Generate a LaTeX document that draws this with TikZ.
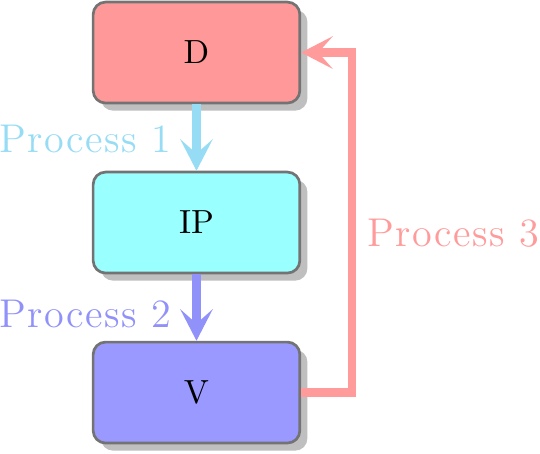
\documentclass[tikz,border=0pt]{standalone}
\usepackage{fontspec}
\usepackage{tikz}
\usetikzlibrary{arrows.meta, shadows}
\newfontfamily\tagfont[LetterSpace=3.5]{Latin Modern Roman}
\definecolor{dcol}{RGB}{255,153,153}
\definecolor{ipcol}{RGB}{153,255,255}
\definecolor{vcol}{RGB}{153,153,255}
\definecolor{pone}{RGB}{150,220,245}
\definecolor{ptwo}{RGB}{145,145,250}
\definecolor{pthree}{RGB}{255,155,155}
\tikzset{
  box/.style={rectangle, rounded corners=0.13cm, draw=black!55, thick,
    minimum width=2.17cm, minimum height=1.06cm,
    drop shadow={shadow xshift=0.08cm, shadow yshift=-0.08cm, fill=black!25, opacity=1}},
  flow/.style={line width=2.6pt, -{Stealth[length=0.33cm, width=0.34cm, inset=0.15cm]}},
  tag/.style={font=\tagfont\fontsize{12}{14}\selectfont}
}
\begin{document}
\begin{tikzpicture}
		\useasboundingbox (0,0) rectangle (5.67,4.757);
		% three stages
		\node[box, fill=dcol] (D) at (2.063,4.205) {D};
		\node[box, fill=ipcol] (IP) at (2.063,2.420) {IP};
		\node[box, fill=vcol] (V) at (2.063,0.635) {V};
		% turning point of the feedback line
		\coordinate (turn) at (3.696,4.205);
		% processes
		\draw[flow, pone] (D) -- (IP) node[pos=0.52, left=3pt, tag] {Process 1};
		\draw[flow, ptwo] (IP) -- (V) node[pos=0.6, left=3pt, tag] {Process 2};
		\draw[flow, pthree] (V.east) -| (turn) node[pos=0.735, right=0pt, tag] {Process 3} -- (D.east);
	\end{tikzpicture}
\end{document}
